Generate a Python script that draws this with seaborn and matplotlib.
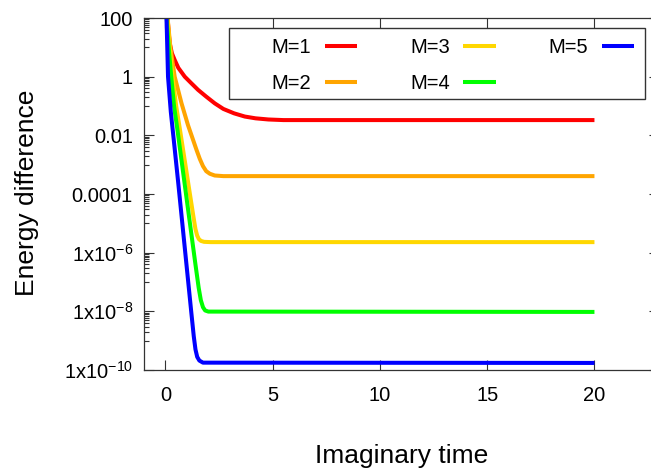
import numpy as np
import pandas as pd
import matplotlib
matplotlib.use("Agg")
import matplotlib.pyplot as plt
from matplotlib.patches import Rectangle
from matplotlib.lines import Line2D
from matplotlib.ticker import FixedLocator, FixedFormatter, NullFormatter
import seaborn as sns

# ---------------- data ----------------
series_labels = ["M=1", "M=2", "M=3", "M=4", "M=5"]
series_colors = ["#ff0000", "#ffa500", "#ffd700", "#00ff00", "#0000ff"]

t_m1 = [0, 0.1, 0.15, 0.2, 0.3, 0.43, 0.6, 0.9, 1.2, 1.52, 1.9, 2.3, 2.7, 3.2, 3.7, 4.2, 4.8, 5.5, 6.5, 20]
e_m1 = [1000, 100, 31.6, 13.8, 6.31, 3.72, 2.0, 1.0, 0.603, 0.355, 0.209, 0.123, 0.0794, 0.0562,
        0.0437, 0.038, 0.0347, 0.0331, 0.0331, 0.0331]

t_m2 = [0, 0.1, 0.23, 0.43, 0.75, 1.05, 1.3, 1.45, 1.6, 1.75, 1.9, 2.07, 2.3, 2.7, 20]
e_m2 = [1000, 100, 10, 1.0, 0.123, 0.0224, 0.0066, 0.00316, 0.00158, 8.9e-4, 6.0e-4, 4.9e-4,
        4.27e-4, 4.07e-4, 4.07e-4]

t_m3 = [0, 0.08, 0.2, 0.33, 0.5, 0.68, 0.9, 1.1, 1.3, 1.4, 1.48, 1.56, 1.66, 1.8, 2.1, 20]
e_m3 = [1000, 100, 10, 1, 0.1, 0.0151, 1.38e-3, 1.55e-4, 1.78e-5, 6.3e-6, 3.8e-6, 2.88e-6,
        2.51e-6, 2.34e-6, 2.29e-6, 2.29e-6]

t_m4 = [0, 0.06, 0.15, 0.27, 0.4, 0.56, 0.8, 1.0, 1.2, 1.4, 1.55, 1.65, 1.75, 1.85, 2.0, 20]
e_m4 = [1000, 100, 10, 1, 0.1, 0.0151, 7.4e-4, 5.9e-5, 4.8e-6, 3.9e-7, 6.3e-8, 2.4e-8, 1.38e-8,
        1.07e-8, 9.8e-9, 9.55e-9]

t_m5 = [0, 0.05, 0.12, 0.25, 0.38, 0.6, 0.8, 1.0, 1.2, 1.32, 1.4, 1.48, 1.58, 1.75, 20]
e_m5 = [1e4, 100, 1, 0.063, 7.9e-3, 2.24e-4, 7.9e-6, 2.8e-7, 1e-8, 1.41e-9, 5.0e-10, 2.8e-10,
        2.1e-10, 1.78e-10, 1.74e-10]

x_ticks = [0, 5, 10, 15, 20]
y_tick_values = [1e-10, 1e-8, 1e-6, 1e-4, 1e-2, 1, 100]
y_tick_labels = ["1x10$^{-10}$", "1x10$^{-8}$", "1x10$^{-6}$", "0.0001", "0.01", "1", "100"]

x_label = "Imaginary time"
y_label = "Energy difference"

# ---------------- build table ----------------
frames = []
for lab, t, e in zip(series_labels,
                     [t_m1, t_m2, t_m3, t_m4, t_m5],
                     [e_m1, e_m2, e_m3, e_m4, e_m5]):
    frames.append(pd.DataFrame({"t": t, "E": e, "M": lab}))
df = pd.concat(frames, ignore_index=True)

# ---------------- style ----------------
sns.set_style("white")
plt.rcParams["font.family"] = ["Liberation Sans", "DejaVu Sans"]
plt.rcParams["mathtext.default"] = "regular"
plt.rcParams["text.color"] = "black"
plt.rcParams["axes.labelcolor"] = "black"
plt.rcParams["xtick.color"] = "black"
plt.rcParams["ytick.color"] = "black"

fig = plt.figure(figsize=(6.51, 4.70), dpi=100)
W, H = 651.0, 470.0
ax_left, ax_right, ax_top, ax_bottom = 144.0, 658.8, 18.0, 370.0
ax = fig.add_axes([ax_left / W, 1 - ax_bottom / H, (ax_right - ax_left) / W, (ax_bottom - ax_top) / H])

palette = dict(zip(series_labels, series_colors))
sns.lineplot(data=df, x="t", y="E", hue="M", palette=palette, linewidth=2.9,
             estimator=None, sort=False, legend=False, ax=ax,
             solid_joinstyle="round", solid_capstyle="butt")

ax.set_yscale("log")
ax.set_xlim(-1.0, 23.0)
ax.set_ylim(1e-10, 100)

ax.xaxis.set_major_locator(FixedLocator(x_ticks))
ax.set_xticklabels([str(v) for v in x_ticks])
ax.xaxis.set_minor_locator(FixedLocator([]))

ax.yaxis.set_major_locator(FixedLocator(y_tick_values))
ax.yaxis.set_major_formatter(FixedFormatter(y_tick_labels))
minor = []
for j in range(-5, 1):
    for k in range(1, 10):
        minor.append(k * 10.0 ** (2 * j + 1))
ax.yaxis.set_minor_locator(FixedLocator(minor))
ax.yaxis.set_minor_formatter(NullFormatter())

spine_col = "#333333"
for s in ["left", "bottom", "top", "right"]:
    ax.spines[s].set_visible(True)
    ax.spines[s].set_color(spine_col)
    ax.spines[s].set_linewidth(0.9)

ax.tick_params(axis="both", which="both", direction="in", top=True, right=True,
               bottom=True, left=True, color=spine_col, width=0.8, labelcolor="black")
ax.tick_params(axis="x", which="minor", top=False, bottom=False)
ax.tick_params(axis="both", which="major", length=7)
ax.tick_params(axis="y", which="minor", length=3.5)
ax.tick_params(axis="x", which="major", labelsize=14.5, pad=11.5)
ax.tick_params(axis="y", which="major", labelsize=14.5, pad=8)

ax.set_xlabel(x_label, fontsize=19, va="center", color="black")
ax.set_ylabel(y_label, fontsize=19, va="center", color="black")
ax.xaxis.set_label_coords(0.5, (ax_bottom - 456) / (ax_bottom - ax_top))
ax.yaxis.set_label_coords((27 - ax_left) / (ax_right - ax_left), (ax_bottom - 193) / (ax_bottom - ax_top))

# legend frame
frame = Rectangle((229.3 / W, 1 - 99 / H), 416 / W, 70.7 / H, transform=fig.transFigure,
                  facecolor="white", edgecolor=spine_col, linewidth=1.0, zorder=3)
fig.add_artist(frame)

handles = [Line2D([], [], color=c, linewidth=2.9, solid_capstyle="butt") for c in series_colors]
leg = fig.legend(handles, series_labels, loc="upper left",
                 bbox_to_anchor=(271.7 / W, 1 - 38.0 / H), bbox_transform=fig.transFigure,
                 ncol=3, frameon=False, markerfirst=False, fontsize=14.5,
                 handlelength=1.6, handletextpad=0.68, columnspacing=2.62,
                 labelspacing=0.85, borderpad=0, borderaxespad=0)
for txt in leg.get_texts():
    txt.set_color("black")
leg.set_zorder(6)

fig.savefig("out.png", dpi=100)
